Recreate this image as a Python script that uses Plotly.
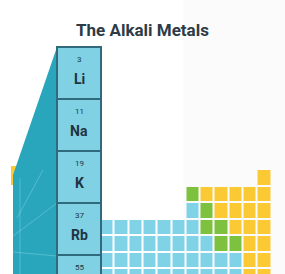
import numpy as np
import plotly.graph_objects as go

# ---- data ----
title_text = "The Alkali Metals"
alkali_symbols = ["Li", "Na", "K", "Rb", "Cs"]
alkali_numbers = [3, 11, 19, 37, 55]

# simplified periodic-table block to the right (0 = empty, 1 = metal, 2 = metalloid, 3 = nonmetal)
grid_rows = [
    [0, 0, 0, 0, 0, 0, 0, 0, 0, 0, 0, 3],
    [0, 0, 0, 0, 0, 0, 2, 3, 3, 3, 3, 3],
    [0, 0, 0, 0, 0, 0, 1, 2, 3, 3, 3, 3],
    [1, 1, 1, 1, 1, 1, 1, 2, 2, 3, 3, 3],
    [1, 1, 1, 1, 1, 1, 1, 1, 2, 2, 3, 3],
    [1, 1, 1, 1, 1, 1, 1, 1, 1, 1, 3, 3],
    [1, 1, 1, 1, 1, 1, 1, 1, 1, 1, 3, 3],
]

# ---- styles ----
W, H = 285, 274
BLUE = "#80d3e7"
CELL = "#7fd1e3"
BORDER = "#2f6b7d"
TEAL = "#29a5bc"
YELLOW = "#fbc934"
GREEN = "#7dc13f"
TEXT = "#1f3442"

z = np.array(grid_rows, dtype=float)
z[z == 0] = np.nan

fig = go.Figure()

shapes = [dict(type="rect", xref="x", yref="y", x0=183, x1=W, y0=0, y1=H,
               fillcolor="#fbfbfb", line_width=0, layer="below")]
shapes.append(dict(type="rect", xref="x", yref="y", x0=11, x1=16, y0=166, y1=185,
                   fillcolor=YELLOW, line_width=0, layer="below"))
shapes.append(dict(type="path", xref="x", yref="y",
                   path="M 57 47 L 13 175 L 13 274 L 57 274 Z",
                   fillcolor=TEAL, line_width=0, layer="below"))
for (x0, y0, x1, y1) in [(13, 236, 57, 203), (17, 218, 43, 170), (13, 252, 57, 256), (20, 178, 20, 274)]:
    shapes.append(dict(type="line", xref="x", yref="y", x0=x0, y0=y0, x1=x1, y1=y1,
                       line=dict(color="rgba(170,230,240,0.35)", width=1), layer="below"))

fig.add_trace(go.Heatmap(
    z=z, x0=106.65, dx=14.3, y0=177.25, dy=16.5,
    colorscale=[[0, BLUE], [0.33, BLUE], [0.34, GREEN], [0.66, GREEN], [0.67, YELLOW], [1, YELLOW]],
    zmin=1, zmax=3, showscale=False, xgap=2, ygap=2, hoverinfo="skip",
))

annotations = []
cx0, cx1, top, ch = 57, 101, 47, 52
for i, (sym, num) in enumerate(zip(alkali_symbols, alkali_numbers)):
    y0 = top + i * ch
    shapes.append(dict(type="rect", xref="x", yref="y", x0=cx0, x1=cx1, y0=y0, y1=y0 + ch,
                       fillcolor=CELL, line=dict(color=BORDER, width=2)))
    annotations.append(dict(x=(cx0 + cx1) / 2, y=y0 + 12, xref="x", yref="y", text=str(num),
                            showarrow=False, font=dict(family="Roboto", size=8, color=TEXT)))
    annotations.append(dict(x=(cx0 + cx1) / 2, y=y0 + 32, xref="x", yref="y", text="<b>%s</b>" % sym,
                            showarrow=False, font=dict(family="Roboto", size=14, color=TEXT)))

annotations.append(dict(x=142.5, y=30, xref="x", yref="y", text="<b>%s</b>" % title_text,
                        showarrow=False, font=dict(family="Roboto", size=17, color="#2e3b47")))

fig.update_layout(
    width=W, height=H, margin=dict(l=0, r=0, t=0, b=0),
    paper_bgcolor="white", plot_bgcolor="rgba(0,0,0,0)",
    xaxis=dict(range=[0, W], visible=False, fixedrange=True),
    yaxis=dict(range=[H, 0], visible=False, fixedrange=True),
    shapes=shapes, annotations=annotations, showlegend=False,
)

fig.write_html("out.html", config={"displayModeBar": False},
               post_script="document.body.style.margin='0';document.body.style.overflow='hidden';")
